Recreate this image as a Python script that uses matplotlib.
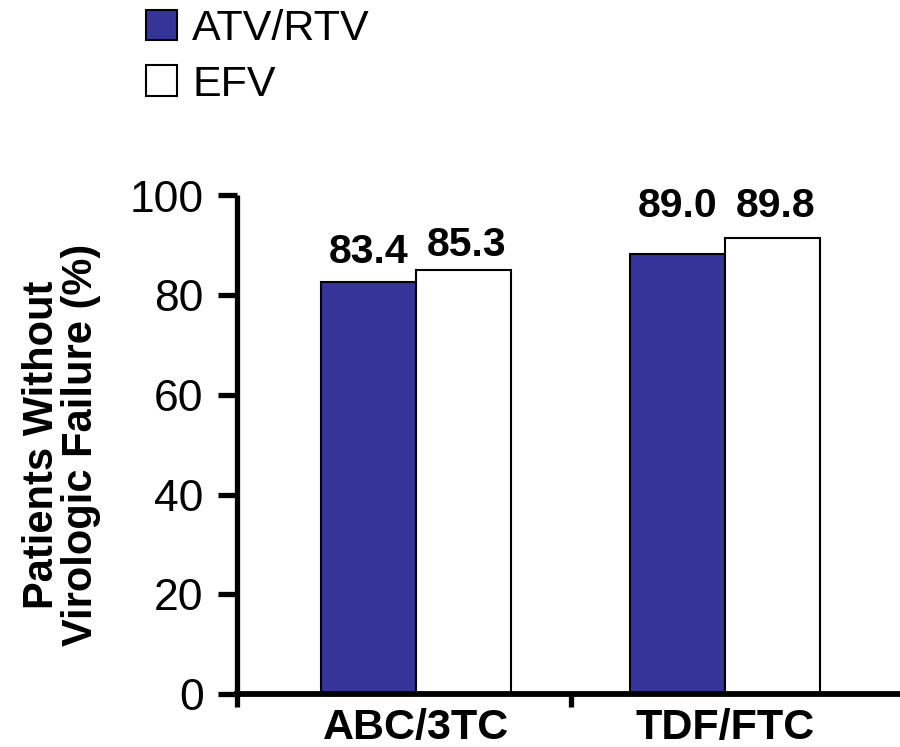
import matplotlib
matplotlib.use("Agg")
import matplotlib.pyplot as plt
from matplotlib.patches import Patch
import numpy as np

plt.rcParams['font.family'] = ['Liberation Sans', 'DejaVu Sans']

categories = ["ABC/3TC", "TDF/FTC"]
series_names = ["ATV/RTV", "EFV"]
atv_rtv = [82.6, 88.3]
efv = [85.1, 91.4]
atv_labels = ["83.4", "89.0"]
efv_labels = ["85.3", "89.8"]
y_ticks = [0, 20, 40, 60, 80, 100]
y_label = "Patients Without\nVirologic Failure (%)"

blue = "#353599"

fig = plt.figure(figsize=(9, 7.47), dpi=100)
ax = fig.add_axes([237/900, 1-694/747, (900-237)/900, (694-195.5)/747])

x = np.arange(len(categories))
w = 0.307
ax.bar(x - w/2, atv_rtv, w, color=blue, edgecolor="black", linewidth=1.5, zorder=2)
ax.bar(x + w/2, efv, w, color="white", edgecolor="black", linewidth=1.5, zorder=2)

# value labels (positions as drawn in the reference)
atv_label_y = [86.5, 95.6]
efv_label_y = [87.9, 95.6]
for i in range(len(categories)):
    ax.text(x[i] - w/2, atv_label_y[i], atv_labels[i], ha="center", va="baseline",
            fontsize=29.5, fontweight="bold")
    ax.text(x[i] + w/2 + 0.01, efv_label_y[i], efv_labels[i], ha="center", va="baseline",
            fontsize=29.5, fontweight="bold")

ax.set_xlim(-0.579, 1.566)
ax.set_ylim(0, 100)

for s in ["top", "right"]:
    ax.spines[s].set_visible(False)
ax.spines["left"].set_linewidth(3.8)
ax.spines["bottom"].set_linewidth(4.2)
ax.spines["left"].set_bounds(-2.6, 100)
ax.spines["left"].set_capstyle("butt")

ax.set_yticks(y_ticks)
ax.set_yticklabels([str(t) for t in y_ticks])
ax.tick_params(axis="y", direction="out", length=14, width=3.8, labelsize=32, pad=10)

ax.set_xticks(x)
ax.set_xticklabels(categories, fontsize=31, fontweight="bold")
ax.tick_params(axis="x", which="major", length=0, pad=10)
ax.set_xticks([0.5], minor=True)
ax.tick_params(axis="x", which="minor", direction="out", length=9.5, width=3.8)

ax.set_ylabel(y_label, fontsize=30, fontweight="bold", linespacing=0.98, va="center")
ax.yaxis.set_label_coords(-0.265, 0.5)

handles = [Patch(facecolor=blue, edgecolor="black", linewidth=1.5),
           Patch(facecolor="white", edgecolor="black", linewidth=1.5)]
fig.legend(handles, series_names, loc="upper left", bbox_to_anchor=(146/900, 1-9/747),
           frameon=False, fontsize=31, handlelength=0.72, handleheight=0.72,
           handletextpad=0.35, labelspacing=0.36, borderpad=0, borderaxespad=0)

fig.savefig("out.png", dpi=100)
